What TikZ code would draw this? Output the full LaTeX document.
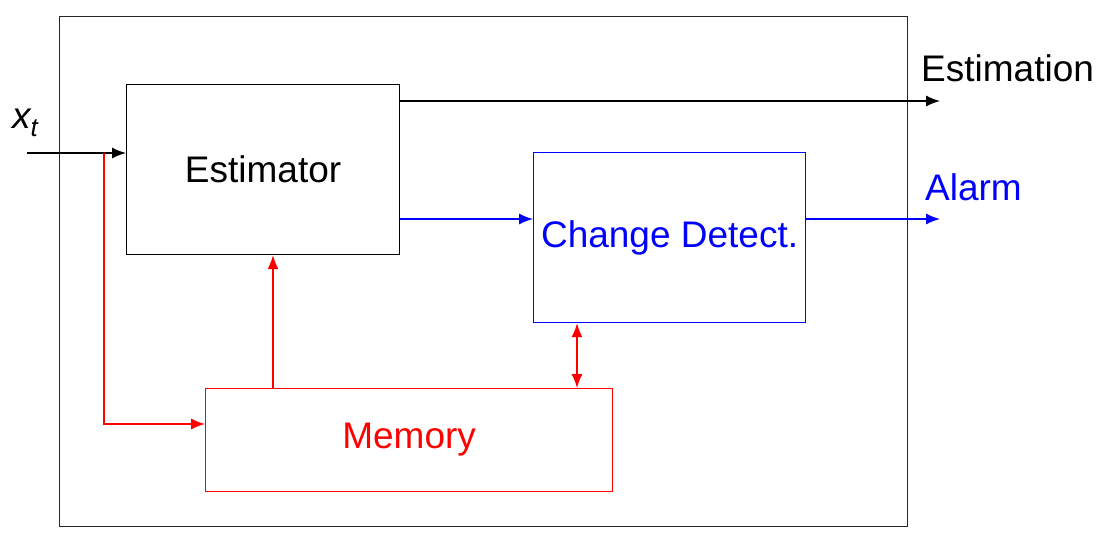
\documentclass[tikz,border=0pt]{standalone}
\usepackage{fontspec}
\setmainfont{Liberation Sans}
\usetikzlibrary{arrows.meta}
\begin{document}
\begin{tikzpicture}[x=1pt,y=-1pt,
  every node/.style={font=\fontsize{37}{40}\selectfont},
  block/.style={draw, line width=1.2pt, inner sep=0pt, anchor=north west},
  tip/.style={Latex[length=14pt,width=11pt]},
  conn/.style={line width=1.3pt, -{Latex[length=14pt,width=11pt]}},
  lbl/.style={anchor=base west, inner sep=0pt}]
  \useasboundingbox (0,0) rectangle (1098,546);

  % enclosing frame
  \node[block, minimum width=848pt, minimum height=510pt, draw=black!85] (frame) at (59,16) {};

  % blocks
  \node[block, minimum width=273pt, minimum height=170pt] (est) at (126,84) {Estimator};
  \node[block, draw=blue, text=blue, minimum width=272pt, minimum height=170pt] (cd) at (533,152) {Change Detect.};
  \node[block, draw=red, text=red, minimum width=407pt, minimum height=103pt] (mem) at (205,388) {Memory};

  % free ends and labels
  \coordinate (in) at (27,153);
  \coordinate (split) at (104,153);
  \coordinate (estout) at (940,101);
  \coordinate (alout) at (940,219);
  \node[lbl] (xt) at (12,128) {\itshape x\textsubscript{t}};
  \node[lbl] (estlbl) at (921,81) {Estimation};
  \node[lbl, text=blue] (allbl) at (925,200) {Alarm};

  % signal flow
  \draw[conn] (in) -- (in -| est.west);
  \draw[conn] (estout -| est.east) -- (estout);
  \draw[conn, blue] (alout -| est.east) -- (alout -| cd.west);
  \draw[conn, blue] (alout -| cd.east) -- (alout);

  % memory paths
  \draw[conn, red] (split) -- (split |- 0,424) -- (mem.west |- 0,424);
  \draw[conn, red] (mem.north -| 273,0) -- (est.south -| 273,0);
  \draw[conn, red, {Latex[length=14pt,width=11pt]}-{Latex[length=14pt,width=11pt]}] (cd.south -| 577,0) -- (mem.north -| 577,0);
\end{tikzpicture}
\end{document}
